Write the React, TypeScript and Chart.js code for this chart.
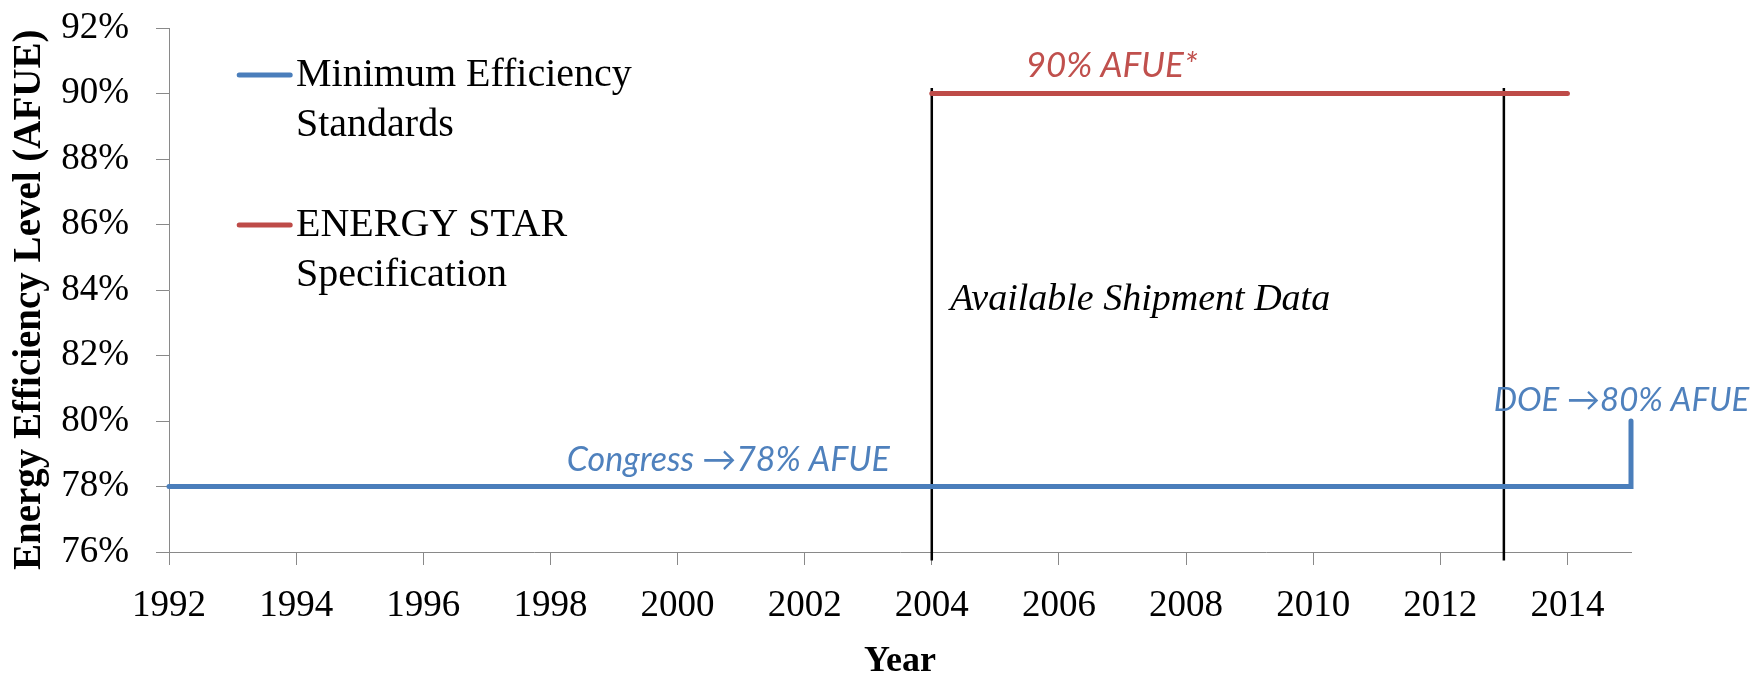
import React, { useEffect, useRef } from 'react';
import { Chart, registerables } from 'chart.js';

Chart.register(...registerables);

// ---------- data ----------
const yearTicks = [1992, 1994, 1996, 1998, 2000, 2002, 2004, 2006, 2008, 2010, 2012, 2014];
const xRange = [1992, 2015];
const yRange = [76, 92];
const yStep = 2;

const seriesLabels = ['Minimum Efficiency Standards', 'ENERGY STAR Specification'];
const legendLines = [
  ['Minimum Efficiency', 'Standards'],
  ['ENERGY STAR', 'Specification'],
];

const minStdYears = [1992, 2015, 2015];
const minStdValues = [78, 78, 80];

const starYears = [2004, 2014];
const starValues = [90, 90];

const shipmentYears = [2004, 2013];
const shipmentSpan = [75.74, 90.17];

const annotationTexts = ['Congress \u219278% AFUE', 'DOE \u219280% AFUE', '90% AFUE*', 'Available Shipment Data'];
const annotationAnchors = [
  [2000.8, 78.46],
  [2014.85, 80.31],
  [2006.83, 90.49],
  [2004.29, 83.38],
];

const xTitle = 'Year';
const yTitle = 'Energy Efficiency Level (AFUE)';

// ---------- styles ----------
const SERIF = '"Liberation Serif", "Times New Roman", serif';
const SANS = 'Lato, "Open Sans", "Noto Sans", sans-serif';
const BLUE = '#4A7EBB';
const RED = '#BE4B48';
const AXIS = '#898989';

const annotationStyles = [
  { font: `italic 34px ${SANS}`, color: '#4F81BD', align: 'center' },
  { font: `italic 33px ${SANS}`, color: '#4F81BD', align: 'center' },
  { font: `italic 35px ${SANS}`, color: '#C0504D', align: 'center' },
  { font: `italic 38px ${SERIF}`, color: '#000000', align: 'left' },
];

const overlayPlugin = {
  id: 'overlay',
  afterDatasetsDraw(chart: any) {
    const { ctx, chartArea, scales } = chart;
    const x = scales.x;
    const y = scales.y;
    ctx.save();
    annotationTexts.forEach((t, i) => {
      const st = annotationStyles[i];
      ctx.font = st.font;
      ctx.fillStyle = st.color;
      ctx.textAlign = st.align;
      ctx.textBaseline = 'alphabetic';
      ctx.fillText(t, x.getPixelForValue(annotationAnchors[i][0]), y.getPixelForValue(annotationAnchors[i][1]));
    });
    // legend (inside plot, top-left)
    const ds = chart.data.datasets;
    legendLines.forEach((lines, i) => {
      const sy = chartArea.top + 47 + i * 150;
      ctx.strokeStyle = ds[i].borderColor;
      ctx.lineWidth = 5;
      ctx.lineCap = 'round';
      ctx.beginPath();
      ctx.moveTo(chartArea.left + 70.2, sy);
      ctx.lineTo(chartArea.left + 121.2, sy);
      ctx.stroke();
      ctx.fillStyle = '#000000';
      ctx.font = `40px ${SERIF}`;
      ctx.textAlign = 'left';
      ctx.textBaseline = 'alphabetic';
      lines.forEach((t, j) => {
        ctx.fillText(t, chartArea.left + 127, sy + 11 + j * 49.5);
      });
    });
    ctx.restore();
  },
};

export default function App() {
  const canvasRef = useRef<HTMLCanvasElement | null>(null);

  useEffect(() => {
    document.body.style.margin = '0';
    const canvas = canvasRef.current;
    if (!canvas) return;

    const pts = (xs: number[], ys: number[]) => xs.map((v, i) => ({ x: v, y: ys[i] }));

    const chart = new Chart(canvas, {
      type: 'scatter',
      data: {
        datasets: [
          {
            label: seriesLabels[0],
            data: pts(minStdYears, minStdValues),
            showLine: true,
            borderColor: BLUE,
            backgroundColor: BLUE,
            borderWidth: 5,
            pointRadius: 0,
            borderCapStyle: 'round',
            borderJoinStyle: 'miter',
            clip: false,
          },
          {
            label: seriesLabels[1],
            data: pts(starYears, starValues),
            showLine: true,
            borderColor: RED,
            backgroundColor: RED,
            borderWidth: 5,
            pointRadius: 0,
            borderCapStyle: 'round',
            clip: false,
          },
          ...shipmentYears.map((yr) => ({
            label: 'Available Shipment Data',
            data: [
              { x: yr, y: shipmentSpan[0] },
              { x: yr, y: shipmentSpan[1] },
            ],
            showLine: true,
            borderColor: '#000000',
            backgroundColor: '#000000',
            borderWidth: 2.5,
            pointRadius: 0,
            clip: false,
          })),
        ],
      },
      options: {
        animation: false,
        responsive: false,
        devicePixelRatio: 1,
        layout: { padding: { top: 28, right: 123, bottom: 0, left: 0 } },
        plugins: {
          legend: { display: false },
          tooltip: { enabled: false },
          title: { display: false },
        },
        scales: {
          x: {
            type: 'linear',
            min: xRange[0],
            max: xRange[1],
            afterBuildTicks: (scale: any) => {
              scale.ticks = yearTicks.map((v) => ({ value: v }));
            },
            afterFit: (scale: any) => {
              scale.height = 126;
              scale.paddingLeft = 0;
              scale.paddingRight = 0;
            },
            ticks: {
              autoSkip: false,
              maxRotation: 0,
              minRotation: 0,
              padding: 19,
              color: '#000000',
              font: { family: SERIF, size: 37 },
              callback: (v: any) => String(v),
            },
            grid: {
              drawOnChartArea: false,
              drawTicks: true,
              tickLength: 13,
              tickColor: AXIS,
              lineWidth: 1,
            },
            border: { display: true, color: AXIS, width: 1 },
            title: {
              display: true,
              text: xTitle,
              color: '#000000',
              font: { family: SERIF, size: 36, weight: 'bold', lineHeight: 0.9 },
              padding: { top: 0, bottom: 0 },
            },
          },
          y: {
            type: 'linear',
            min: yRange[0],
            max: yRange[1],
            afterFit: (scale: any) => {
              scale.width = 169;
              scale.paddingTop = 0;
              scale.paddingBottom = 0;
            },
            ticks: {
              stepSize: yStep,
              padding: 27,
              color: '#000000',
              font: { family: SERIF, size: 37 },
              callback: (v: any) => `${v}%`,
            },
            grid: {
              drawOnChartArea: false,
              drawTicks: true,
              tickLength: 13,
              tickColor: AXIS,
              lineWidth: 1,
            },
            border: { display: true, color: AXIS, width: 1 },
            title: {
              display: true,
              text: yTitle + '  ',
              color: '#000000',
              font: { family: SERIF, size: 39, weight: 'bold' },
              padding: { top: 7, bottom: 0 },
            },
          },
        },
      },
      plugins: [overlayPlugin],
    } as any);

    return () => {
      chart.destroy();
    };
  }, []);

  return (
    <div style={{ width: 1754, height: 678, background: '#ffffff' }}>
      <canvas ref={canvasRef} width={1754} height={678} style={{ display: 'block' }} />
    </div>
  );
}
